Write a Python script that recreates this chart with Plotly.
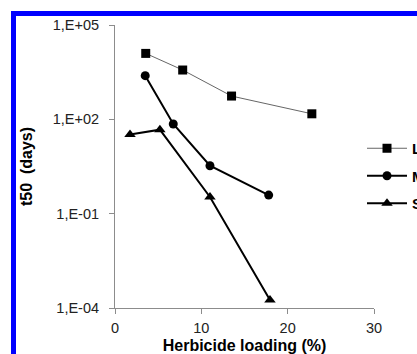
import plotly.graph_objects as go

# Herbicide loading (%) and half-life t50 (days) for three particle sizes
series_names = ["L", "M", "S"]

loading_L = [3.56, 7.84, 13.5, 22.8]
t50_L = [12500, 3700, 550, 150]

loading_M = [3.5, 6.75, 11.0, 17.8]
t50_M = [2450, 71, 3.35, 0.39]

loading_S = [1.74, 5.2, 11.0, 17.95]
t50_S = [33, 47, 0.34, 0.00018]

y_tickvals = [1e-4, 1e-1, 1e2, 1e5]
y_ticktext = ["1,E-04", "1,E-01", "1,E+02", "1,E+05"]
x_tickvals = [0, 10, 20, 30]

W, H = 417, 354
ML, MR, MT, MB = 115, 43, 25, 46
PW, PH = W - ML - MR, H - MT - MB

FONT = "Liberation Sans, Arial, sans-serif"

fig = go.Figure()
fig.add_trace(go.Scatter(
    x=loading_L, y=t50_L, name=series_names[0], mode="lines+markers",
    line=dict(color="#666666", width=1),
    marker=dict(symbol="square", size=9, color="black"),
    legendgroup="L",
))
fig.add_trace(go.Scatter(
    x=loading_M, y=t50_M, name=series_names[1], mode="lines+markers",
    line=dict(color="black", width=2),
    marker=dict(symbol="circle", size=9, color="black"),
    legendgroup="M",
))
fig.add_trace(go.Scatter(
    x=loading_S, y=t50_S, name=series_names[2], mode="lines+markers",
    line=dict(color="black", width=2),
    marker=dict(symbol="triangle-up", size=10, color="black"),
    legendgroup="S",
))


def px_x(p):
    return (p - ML) / PW


def px_y(p):
    return (H - MB - p) / PH


# blue frame along the left and top edges
blue = "#0000FF"
shapes = [
    dict(type="rect", xref="paper", yref="paper", layer="above",
         x0=px_x(11), x1=px_x(16), y0=px_y(11), y1=px_y(H + 20),
         fillcolor=blue, line=dict(width=0)),
    dict(type="rect", xref="paper", yref="paper", layer="above",
         x0=px_x(11), x1=px_x(W + 20), y0=px_y(16), y1=px_y(11),
         fillcolor=blue, line=dict(width=0)),
]

axis_common = dict(
    showgrid=False, zeroline=False, showline=True, linecolor="#8c8c8c",
    linewidth=1, ticks="outside", ticklen=5, tickcolor="#8c8c8c",
    tickfont=dict(family=FONT, size=14.5, color="#222222"),
)

fig.update_layout(
    width=W, height=H,
    margin=dict(l=ML, r=MR, t=MT, b=MB, autoexpand=False),
    paper_bgcolor="white", plot_bgcolor="white",
    shapes=shapes,
    showlegend=True,
    legend=dict(
        x=px_x(362), xanchor="left", y=px_y(132), yanchor="top",
        font=dict(family=FONT, size=15, color="black", weight="bold"),
        bgcolor="rgba(0,0,0,0)", tracegroupgap=5, itemwidth=40,
    ),
    xaxis=dict(
        range=[0, 30], tickvals=x_tickvals, ticklabelstandoff=2,
        title=dict(text="Herbicide loading (%)", standoff=4,
                   font=dict(family=FONT, size=16, color="black", weight="bold")),
        **axis_common,
    ),
    yaxis=dict(
        type="log", range=[-4, 5], tickvals=y_tickvals, ticktext=y_ticktext,
        ticklabelstandoff=7,
        title=dict(text="t50  (days)", standoff=16,
                   font=dict(family=FONT, size=16, color="black", weight="bold")),
        **axis_common,
    ),
)

fig.write_html("out.html")
